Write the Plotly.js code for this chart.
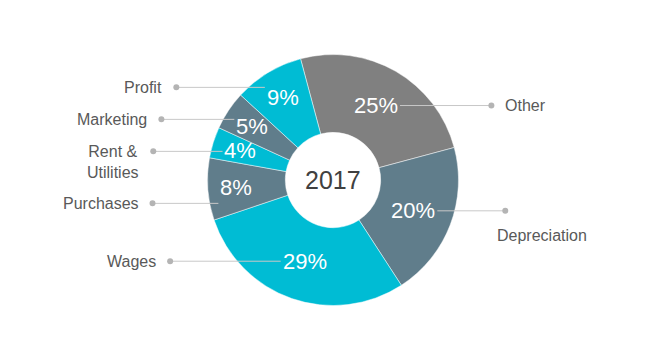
<!DOCTYPE html>
<html>
<head>
<meta charset="utf-8">
<script src="https://cdn.plot.ly/plotly-3.0.1.min.js"></script>
<style>html,body{margin:0;padding:0;background:#fff;}#chart{width:655px;height:351px;}</style>
</head>
<body>
<div id="chart"></div>
<script>
// ---- data ----
const categories = ['Other', 'Depreciation', 'Wages', 'Purchases', 'Rent &<br>Utilities', 'Marketing', 'Profit'];
const shares = [25, 20, 29, 8, 4, 5, 9];
const centerLabel = '2017';

// ---- style / layout ----
const W = 655, H = 351;
const cx = 333, cy = 180, R = 125.5, holeFrac = 0.38;
const rotation = -15;
const sliceColors = ['#808080', '#607D8B', '#00BCD4', '#607D8B', '#00BCD4', '#607D8B', '#00BCD4'];
const FONT = '"Liberation Sans", Arial, sans-serif';
const pctSize = 22, labelSize = 16, lineH = 20, labelPad = 12;

const px = x => x / W;
const py = y => 1 - y / H;

const pie = {
  type: 'pie',
  labels: categories,
  values: shares,
  sort: false,
  direction: 'clockwise',
  rotation: rotation,
  hole: holeFrac,
  textinfo: 'none',
  hoverinfo: 'skip',
  marker: { colors: sliceColors, line: { color: 'rgba(255,255,255,0.6)', width: 0.8 } },
  domain: { x: [px(cx - R), px(cx + R)], y: [py(cy + R), py(cy - R)] },
  showlegend: false
};

const total = shares.reduce((a, b) => a + b, 0);
const annotations = [];
const shapes = [];
const items = [];
let start = rotation;
shares.forEach((v, i) => {
  const frac = v / total;
  const mid = (start + frac * 180) * Math.PI / 180;
  start += frac * 360;
  const r = frac < 0.1 ? 97 : 86;
  const tx = cx + r * Math.sin(mid);
  const ty = cy - r * Math.cos(mid);
  const pct = Math.round(frac * 100) + '%';
  const half = ((pct.length - 1) * 0.556 + 0.889) * pctSize / 2;
  annotations.push({
    xref: 'paper', yref: 'paper', x: px(tx), y: py(ty), xanchor: 'center', yanchor: 'middle',
    text: pct, showarrow: false, font: { family: FONT, size: pctSize, color: '#ffffff' }
  });
  items.push({ i, mid, tx, ty, half, left: Math.sin(mid) < 0, ly: ty,
               lines: categories[i].split('<br>').length });
});

// spread leader lines on each side so label boxes do not collide
[true, false].forEach(side => {
  const grp = items.filter(o => o.left === side).sort((a, b) => a.ty - b.ty);
  for (let it = 0; it < 300; it++) {
    for (let k = 0; k + 1 < grp.length; k++) {
      const a = grp[k], b = grp[k + 1];
      const bottomA = a.ly - lineH / 2 + a.lines * lineH;
      const topB = b.ly - lineH / 2;
      const deficit = labelPad - (topB - bottomA);
      if (deficit > 0) { a.ly -= deficit / 2; b.ly += deficit / 2; }
    }
  }
});

items.forEach(o => {
  const Rdot = o.left ? 182 : 175;
  const dy = o.ly - cy;
  const dx = Math.sqrt(Math.max(Rdot * Rdot - dy * dy, 0));
  const dotX = o.left ? cx - dx : cx + dx;
  const lineStart = o.left ? o.tx - o.half - 2 : o.tx + o.half + 2;
  shapes.push({
    type: 'line', xref: 'paper', yref: 'paper', layer: 'above',
    x0: px(lineStart), x1: px(dotX), y0: py(o.ly), y1: py(o.ly),
    line: { color: '#C8C8C8', width: 1 }
  });
  const d = 3;
  shapes.push({
    type: 'circle', xref: 'paper', yref: 'paper', layer: 'above',
    x0: px(dotX - d), x1: px(dotX + d), y0: py(o.ly + d), y1: py(o.ly - d),
    fillcolor: '#B4B4B4', line: { width: 0 }
  });
  let ann;
  if (o.left) {
    ann = { x: px(dotX - 12), y: py(o.ly - lineH / 2), xanchor: 'right', yanchor: 'top', align: 'center' };
  } else if (Math.cos(o.mid) < 0) {
    ann = { x: px(dotX - 10), y: py(o.ly + 14), xanchor: 'left', yanchor: 'top', align: 'left' };
  } else {
    ann = { x: px(dotX + 12), y: py(o.ly), xanchor: 'left', yanchor: 'middle', align: 'left' };
  }
  annotations.push(Object.assign(ann, {
    xref: 'paper', yref: 'paper', text: categories[o.i], showarrow: false,
    font: { family: FONT, size: labelSize, color: '#595959' }
  }));
});

annotations.push({
  xref: 'paper', yref: 'paper', x: px(cx), y: py(cy), xanchor: 'center', yanchor: 'middle',
  text: centerLabel, showarrow: false, font: { family: FONT, size: 25, color: '#404040' }
});

const layout = {
  width: W, height: H,
  margin: { l: 0, r: 0, t: 0, b: 0 },
  paper_bgcolor: '#ffffff', plot_bgcolor: '#ffffff',
  showlegend: false,
  annotations: annotations,
  shapes: shapes,
  font: { family: FONT }
};

Plotly.newPlot('chart', [pie], layout, { displayModeBar: false, staticPlot: true });
</script>
</body>
</html>
